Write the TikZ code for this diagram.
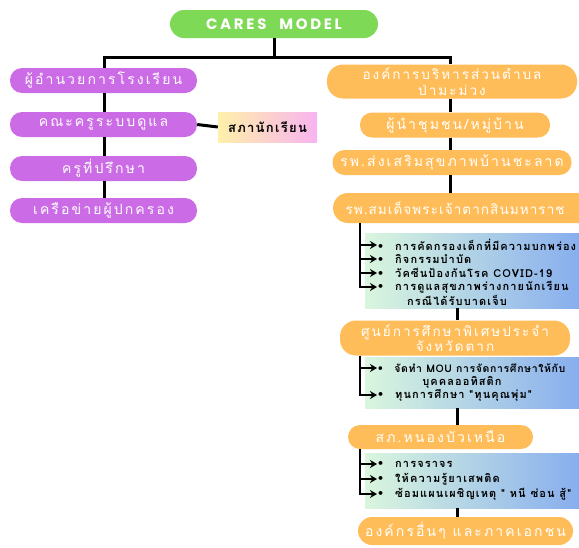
\documentclass[tikz,border=0pt]{standalone}
\usepackage{fontspec}
\setmainfont{Liberation Sans}
\newfontfamily\thaiwide[Script=Thai,LetterSpace=15]{Loma}
\newfontfamily\thaimid[Script=Thai,LetterSpace=8]{Loma}
\newfontfamily\itemfont[Script=Thai,LetterSpace=10]{Loma}
\newfontfamily\itemtight[Script=Thai,LetterSpace=6]{Loma}
\newfontfamily\titlefont[LetterSpace=18]{Poppins}
\newfontfamily\symfont{DejaVu Sans}
\usetikzlibrary{arrows.meta}

\definecolor{modelgreen}{RGB}{126,217,87}
\definecolor{schoolpurple}{RGB}{203,108,230}
\definecolor{partnerorange}{RGB}{255,189,89}
\definecolor{councilyellow}{RGB}{255,240,170}
\definecolor{councilpink}{RGB}{248,180,240}
\definecolor{listgreen}{RGB}{218,246,222}
\definecolor{listblue}{RGB}{125,165,240}

\begin{document}
\begin{tikzpicture}[x = 1pt, y = -1pt,
    conn/.style = {line width = 3pt},
    branch/.style = {line width = 2.2pt, -{Stealth[length = 7pt, width = 8pt]}},
    pill/.style = {rounded corners = 12pt, minimum height = 25pt, inner sep = 1pt, text = white, align = center},
    purplebox/.style = {pill, fill = schoolpurple, minimum width = 187pt, font = \thaiwide\fontsize{14}{15}\selectfont},
    orangebox/.style = {pill, fill = partnerorange, font = \thaiwide\fontsize{14}{15}\selectfont},
    twoline/.style = {inner ysep = 0pt, font = \thaiwide\fontsize{13.5}{15.5}\selectfont},
    listbox/.style = {inner sep = 0pt, minimum width = 240pt, anchor = north west, left color = listgreen, right color = listblue},
    item/.style = {anchor = west, inner sep = 0pt, font = \itemfont\bfseries\fontsize{11}{12}\selectfont}]
    \useasboundingbox (0,0) rectangle (579,547);
    \fill [white] (0,0) rectangle (579,547);
    \clip (0,0) rectangle (579,547);

    % Draw the model title:
    \node [pill, fill = modelgreen, minimum width = 208pt, minimum height = 28pt, rounded corners = 14pt,
        font = \titlefont\bfseries\fontsize{15}{16}\selectfont] (Model) at (274,24) {CARES\hspace{7pt} MODEL};

    % Draw the school side:
    \node [purplebox] (Director) at (103.5,80.5) {ผู้อำนวยการโรงเรียน};
    \node [purplebox] (CareTeam) at (103.5,124.5) {คณะครูระบบดูแล};
    \node [purplebox] (Advisor)  at (103.5,168.5) {ครูที่ปรึกษา};
    \node [purplebox] (Parents)  at (103.5,210.5) {เครือข่ายผู้ปกครอง};
    \node [inner sep = 0pt, minimum width = 99pt, minimum height = 30pt, left color = councilyellow, right color = councilpink,
        font = \itemfont\bfseries\fontsize{13}{14}\selectfont] (Council) at (267.5,127) {สภานักเรียน};

    % Draw the partner side:
    \node [orangebox, twoline, minimum width = 250pt, minimum height = 34pt, rounded corners = 16pt] (Agency) at (452,81.5)
        {องค์การบริหารส่วนตำบล\\ป่ามะม่วง};
    \node [orangebox, minimum width = 190pt] (Leaders)  at (455,125)   {ผู้นำชุมชน/หมู่บ้าน};
    \node [orangebox, minimum width = 239pt] (Clinic)   at (452,162.5) {รพ.ส่งเสริมสุขภาพบ้านชะลาด};
    \node [orangebox, minimum width = 265pt, minimum height = 30pt, rounded corners = 15pt, text width = 240pt, align = left,
        font = \thaimid\fontsize{13.5}{15}\selectfont] (Hospital) at (465.5,208)
        {รพ.สมเด็จพระเจ้าตากสินมหาราช};
    \node [orangebox, twoline, minimum width = 230pt, minimum height = 35pt, rounded corners = 16pt] (Centre) at (455,338)
        {ศูนย์การศึกษาพิเศษประจำ\\จังหวัดตาก};
    \node [orangebox, minimum width = 185pt, minimum height = 24pt] (Police) at (440.5,437) {สภ.หนองบัวเหนือ};
    \node [orangebox, minimum width = 215pt, minimum height = 28pt, rounded corners = 14pt] (Others) at (465.5,531)
        {องค์กรอื่นๆ และภาคเอกชน};

    % Draw the lists of work:
    \node [listbox, minimum height = 75pt] (HospitalList) at (365,233) {};
    \node [item] (HospitalItemA) at (377,245) {{\symfont •}\quad การคัดกรองเด็กที่มีความบกพร่อง};
    \node [item] (HospitalItemB) at (377,259) {{\symfont •}\quad กิจกรรมบำบัด};
    \node [item] (HospitalItemC) at (377,273) {{\symfont •}\quad วัคซีนป้องกันโรค COVID-19};
    \node [item] (HospitalItemD) at (377,287) {{\symfont •}\quad การดูแลสุขภาพร่างกายนักเรียน};
    \node [item, anchor = center] (HospitalItemE) at (457,300) {กรณีได้รับบาดเจ็บ};

    \node [listbox, minimum height = 51pt] (CentreList) at (365,357) {};
    \node [item, font = \itemtight\bfseries\fontsize{10.5}{12}\selectfont] (CentreItemA) at (377,368)
        {{\symfont •}\quad จัดทำ MOU การจัดการศึกษาให้กับ};
    \node [item, anchor = center] (CentreItemB) at (462,382) {บุคคลออทิสติก};
    \node [item] (CentreItemC) at (377,395) {{\symfont •}\quad ทุนการศึกษา "ทุนคุณพุ่ม"};

    \node [listbox, minimum height = 55pt] (PoliceList) at (365,453) {};
    \node [item] (PoliceItemA) at (377,464) {{\symfont •}\quad การจราจร};
    \node [item] (PoliceItemB) at (377,479) {{\symfont •}\quad ให้ความรู้ยาเสพติด};
    \node [item] (PoliceItemC) at (377,494) {{\symfont •}\quad ซ้อมแผนเผชิญเหตุ " หนี ซ่อน สู้"};

    % Draw the connectors:
    \coordinate (Bar) at (0,57);
    \coordinate (LeftSpine) at (104,0);
    \coordinate (RightSpine) at (450,0);
    \coordinate (ListSpine) at (457,0);
    \coordinate (BranchSpine) at (360,0);

    \draw [conn] (Model.south) -- (Model.south |- Bar);
    \draw [conn] (LeftSpine |- Director.north) |- (RightSpine |- Bar) -- (RightSpine |- Agency.north);
    \foreach \a/\b in {Director/CareTeam, CareTeam/Advisor, Advisor/Parents}
        \draw [conn] (LeftSpine |- \a.south) -- (LeftSpine |- \b.north);
    \draw [conn] (CareTeam.east) -- (Council.west);
    \foreach \a/\b in {Agency/Leaders, Leaders/Clinic, Clinic/Hospital}
        \draw [conn] (RightSpine |- \a.south) -- (RightSpine |- \b.north);
    \foreach \a/\b in {HospitalList/Centre, CentreList/Police, PoliceList/Others}
        \draw [conn] (ListSpine |- \a.south) -- (ListSpine |- \b.north);

    % Draw the branches to each list item:
    \foreach \i in {A, B, C, D}
        \draw [branch] (BranchSpine |- Hospital.south) |- (HospitalItem\i.west);
    \foreach \i in {A, C}
        \draw [branch] (BranchSpine |- Centre.south) |- (CentreItem\i.west);
    \foreach \i in {A, B, C}
        \draw [branch] (BranchSpine |- Police.south) |- (PoliceItem\i.west);
\end{tikzpicture}
\end{document}
